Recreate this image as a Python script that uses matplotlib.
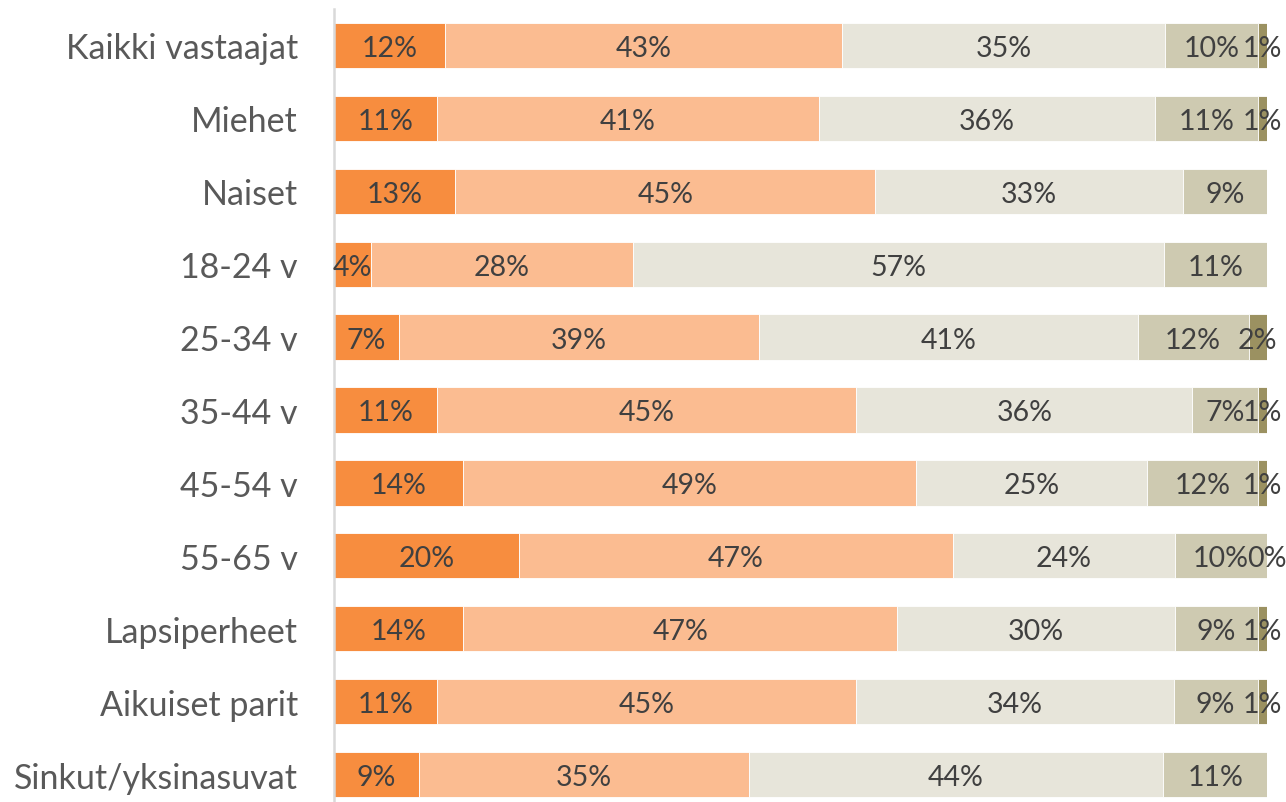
import matplotlib.pyplot as plt
import numpy as np

# categories and shares (%), one list per answer group
categories = ['Kaikki vastaajat', 'Miehet', 'Naiset', '18-24 v', '25-34 v', '35-44 v',
              '45-54 v', '55-65 v', 'Lapsiperheet', 'Aikuiset parit', 'Sinkut/yksinasuvat']
share_1 = [12, 11, 13, 4, 7, 11, 14, 20, 14, 11, 9]
share_2 = [43, 41, 45, 28, 39, 45, 49, 47, 47, 45, 35]
share_3 = [35, 36, 33, 57, 41, 36, 25, 24, 30, 34, 44]
share_4 = [10, 11, 9, 11, 12, 7, 12, 10, 9, 9, 11]
share_5 = [1, 1, None, None, 2, 1, 1, 0, 1, 1, None]

colors = ['#F78D3F', '#FBBC91', '#E7E5DA', '#CECAB1', '#9B9161']

series = [share_1, share_2, share_3, share_4, share_5]
values = np.array([[v if v is not None else 0 for v in s] for s in series], dtype=float)
totals = values.sum(axis=0)
widths = values / totals  # 100 % stacked

fig = plt.figure(figsize=(12.86, 8.03), dpi=100)
ax = fig.add_axes([334 / 1286, -9 / 803, 933 / 1286, 802 / 803])

y = np.arange(len(categories))
left = np.zeros(len(categories))
for k, s in enumerate(series):
    ax.barh(y, widths[k], left=left, height=0.62, color=colors[k],
            edgecolor='white', linewidth=0.6)
    for i, v in enumerate(s):
        if v is None:
            continue
        ax.text(left[i] + widths[k][i] / 2, y[i], f'{v}%', ha='center',
                va='center_baseline', fontsize=20.5, color='#404040', family='Lato')
    left = left + widths[k]

ax.set_xlim(0, 1)
ax.set_ylim(len(categories) - 0.5, -0.5)
ax.set_yticks(y)
ax.set_yticklabels(categories, fontsize=24.5, color='#595959', family='Lato')
ax.tick_params(axis='y', length=0, pad=26)
ax.set_xticks([])
for side in ['top', 'right', 'bottom']:
    ax.spines[side].set_visible(False)
ax.spines['left'].set_color('#D9D9D9')
ax.spines['left'].set_linewidth(1.8)

fig.savefig('out.png', dpi=100)
